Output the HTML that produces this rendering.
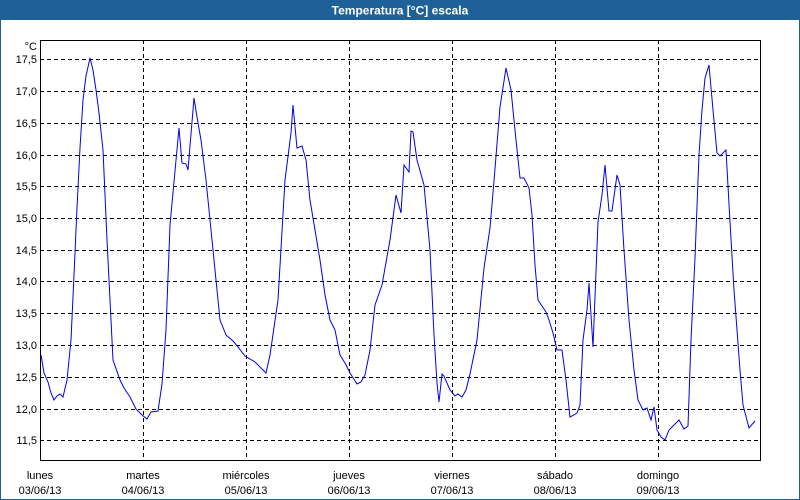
<!DOCTYPE html>
<html><head><meta charset="utf-8"><style>
html,body{margin:0;padding:0;width:800px;height:500px;overflow:hidden;background:#fff;}
</style></head><body>
<svg width="800" height="500" xmlns="http://www.w3.org/2000/svg" font-family="Liberation Sans, sans-serif">
<rect x="0" y="0" width="800" height="500" fill="#fff"/>
<rect x="0.5" y="0.5" width="799" height="499" fill="none" stroke="#1e6198" stroke-width="1"/>
<rect x="0" y="0" width="800" height="20" fill="#1e6198"/>
<text x="400" y="14.5" text-anchor="middle" fill="#fff" font-size="12" font-weight="bold">Temperatura [°C] escala</text>
<g stroke="#000" stroke-width="1" stroke-dasharray="4,3" fill="none">
<line x1="40" y1="59.5" x2="760" y2="59.5"/>
<line x1="40" y1="91.5" x2="760" y2="91.5"/>
<line x1="40" y1="123.5" x2="760" y2="123.5"/>
<line x1="40" y1="155.5" x2="760" y2="155.5"/>
<line x1="40" y1="186.5" x2="760" y2="186.5"/>
<line x1="40" y1="218.5" x2="760" y2="218.5"/>
<line x1="40" y1="250.5" x2="760" y2="250.5"/>
<line x1="40" y1="281.5" x2="760" y2="281.5"/>
<line x1="40" y1="313.5" x2="760" y2="313.5"/>
<line x1="40" y1="345.5" x2="760" y2="345.5"/>
<line x1="40" y1="377.5" x2="760" y2="377.5"/>
<line x1="40" y1="409.5" x2="760" y2="409.5"/>
<line x1="40" y1="440.5" x2="760" y2="440.5"/>
<line x1="143.5" y1="40" x2="143.5" y2="460"/>
<line x1="246.5" y1="40" x2="246.5" y2="460"/>
<line x1="349.5" y1="40" x2="349.5" y2="460"/>
<line x1="452.5" y1="40" x2="452.5" y2="460"/>
<line x1="555.5" y1="40" x2="555.5" y2="460"/>
<line x1="658.5" y1="40" x2="658.5" y2="460"/>
</g>
<rect x="40.5" y="40.5" width="720" height="420" fill="none" stroke="#000" stroke-width="1"/>
<g font-size="11" fill="#000" text-anchor="end">
<text x="37" y="50">°C</text>
<text x="37" y="63">17,5</text>
<text x="37" y="95">17,0</text>
<text x="37" y="127">16,5</text>
<text x="37" y="159">16,0</text>
<text x="37" y="190">15,5</text>
<text x="37" y="222">15,0</text>
<text x="37" y="254">14,5</text>
<text x="37" y="285">14,0</text>
<text x="37" y="317">13,5</text>
<text x="37" y="349">13,0</text>
<text x="37" y="381">12,5</text>
<text x="37" y="413">12,0</text>
<text x="37" y="444">11,5</text>
</g>
<g font-size="11" fill="#000" text-anchor="middle">
<text x="40" y="479">lunes</text><text x="40" y="494">03/06/13</text>
<text x="143" y="479">martes</text><text x="143" y="494">04/06/13</text>
<text x="246" y="479">miércoles</text><text x="246" y="494">05/06/13</text>
<text x="349" y="479">jueves</text><text x="349" y="494">06/06/13</text>
<text x="452" y="479">viernes</text><text x="452" y="494">07/06/13</text>
<text x="555" y="479">sábado</text><text x="555" y="494">08/06/13</text>
<text x="658" y="479">domingo</text><text x="658" y="494">09/06/13</text>
</g>
<polyline fill="none" stroke="#0000ee" stroke-width="1" points="
41,355 44,373 48,382 51,393 54,400 57,396 60,394 63,397 67,380 71,340 74,275 77,208 80,148 83,100 86,76 90,58 93,70 96,90 99,113 103,150 107,240 110,300 113,360 120,380 124,388 130,397 136,409 142,415 147,419 151,412 158,411 162,384 166,330 170,225 179,128 182,163 186,164 188,170 194,98 197,117 201,140 206,180 213,250 220,320 226,335 233,341 238,347 245,356 255,362 266,373 270,355 278,300 285,180 291,133 293,105 297,148 302,146 306,160 310,200 315,230 320,260 325,295 330,320 335,330 340,355 345,363 350,373 357,384 361,382 365,375 370,350 375,305 382,285 390,240 396,195 401,213 404,165 409,172 411,131 413,132 417,160 424,185 430,250 434,335 437,383 439,402 442,374 444,376 450,390 455,396 458,394 462,397 466,390 470,374 477,340 484,268 490,228 494,181 500,107 506,68 511,90 516,140 520,178 524,178 529,188 532,215 535,265 538,300 546,312 549,320 553,333 557,350 562,350 566,380 570,417 577,413 580,405 583,340 587,310 589,283 593,347 598,222 602,195 605,165 609,211 612,211 617,175 620,185 624,250 629,320 634,370 638,400 643,410 647,408 651,420 654,407 657,430 661,437 665,440 669,430 679,420 684,429 688,426 691,340 695,258 699,155 702,110 705,78 709,65 713,110 717,153 720,156 726,150 730,222 734,290 740,370 743,405 749,428 755,421"/>
</svg>
</body></html>
